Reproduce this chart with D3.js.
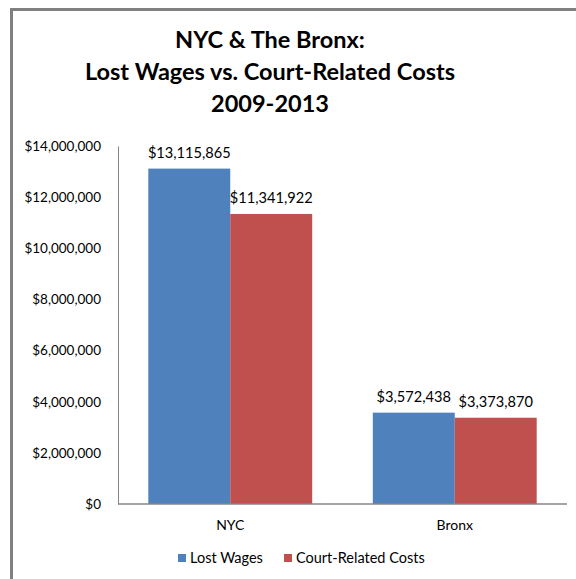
<!DOCTYPE html>
<html><head><meta charset="utf-8">
<script src="https://cdn.jsdelivr.net/npm/d3@7"></script>
<style>body{margin:0;background:#fff}svg{display:block}text{font-family:Lato,"Open Sans",sans-serif}</style>
</head><body>
<script>
const categories = ["NYC", "Bronx"];
const seriesNames = ["Lost Wages", "Court-Related Costs"];
const lostWages = [13115865, 3572438];
const courtCosts = [11341922, 3373870];
const yTicks = [0, 2000000, 4000000, 6000000, 8000000, 10000000, 12000000, 14000000];
const colors = ["#4F81BD", "#C0504D"];
const titleLines = ["NYC & The Bronx:", "Lost Wages vs. Court-Related Costs", "2009-2013"];

const W = 576, H = 579;
const svg = d3.select("body").append("svg").attr("width", W).attr("height", H);
svg.append("rect").attr("width", W).attr("height", H).attr("fill", "#fff");
// frame
svg.append("path").attr("d", `M11.5,${H} L11.5,9.5 L${W},9.5`).attr("fill", "none").attr("stroke", "#808080").attr("stroke-width", 3);

const title = svg.append("text").attr("text-anchor", "middle").attr("font-weight", "bold").attr("font-size", 23.5).attr("fill", "#000");
titleLines.forEach((t, i) => title.append("tspan").attr("x", 270).attr("y", 48 + i * 32).text(t));

const plot = {l: 118, r: 567, t: 146, b: 504};
const y = d3.scaleLinear().domain([0, 14000000]).range([plot.b, plot.t]);
const x0 = d3.scaleBand().domain(categories).range([plot.l, plot.r]).paddingInner(0.27).paddingOuter(0.135);
const x1 = d3.scaleBand().domain(seriesNames).range([0, x0.bandwidth()]);
const fmt = v => "$" + d3.format(",")(v);

const yAxis = svg.append("g").attr("transform", `translate(${plot.l},0)`)
  .call(d3.axisLeft(y).tickValues(yTicks).tickFormat(fmt).tickSize(0).tickPadding(17));
yAxis.select(".domain").attr("stroke", "#868686").attr("stroke-width", 1);
yAxis.selectAll("text").attr("font-size", 13.5).attr("fill", "#000").style("font-family", "Lato,'Open Sans',sans-serif");

const data = categories.map((c, i) => ({cat: c, vals: [lostWages[i], courtCosts[i]]}));
const g = svg.selectAll("g.cat").data(data).join("g").attr("class", "cat")
  .attr("transform", d => `translate(${x0(d.cat)},0)`);
g.selectAll("rect").data(d => d.vals.map((v, j) => ({v, j}))).join("rect")
  .attr("x", d => x1(seriesNames[d.j])).attr("width", x1.bandwidth())
  .attr("y", d => y(d.v)).attr("height", d => plot.b - y(d.v))
  .attr("fill", d => colors[d.j]);
g.selectAll("text.lbl").data(d => d.vals.map((v, j) => ({v, j}))).join("text").attr("class", "lbl")
  .attr("x", d => x1(seriesNames[d.j]) + x1.bandwidth() / 2)
  .attr("y", d => y(d.v) - 11)
  .attr("text-anchor", "middle").attr("font-size", 14.6).attr("fill", "#000")
  .text(d => fmt(d.v));

const xAxis = svg.append("g").attr("transform", `translate(0,${plot.b})`)
  .call(d3.axisBottom(x0).tickSize(0).tickPadding(16));
xAxis.select(".domain").attr("stroke", "#868686").attr("stroke-width", 1.5).attr("d", `M${plot.l},0H${plot.r}`);
xAxis.selectAll("text").attr("font-size", 14).attr("fill", "#000").style("font-family", "Lato,'Open Sans',sans-serif");

// legend
const legendX = [178, 284];
const leg = svg.selectAll("g.leg").data(seriesNames).join("g").attr("class", "leg")
  .attr("transform", (d, i) => `translate(${legendX[i]},558)`);
leg.append("rect").attr("x", 0).attr("y", -4).attr("width", 8).attr("height", 8).attr("fill", (d, i) => colors[i]);
leg.append("text").attr("x", 12).attr("y", 5).attr("font-size", 14.5).attr("fill", "#000").text(d => d);
</script>
</body></html>
